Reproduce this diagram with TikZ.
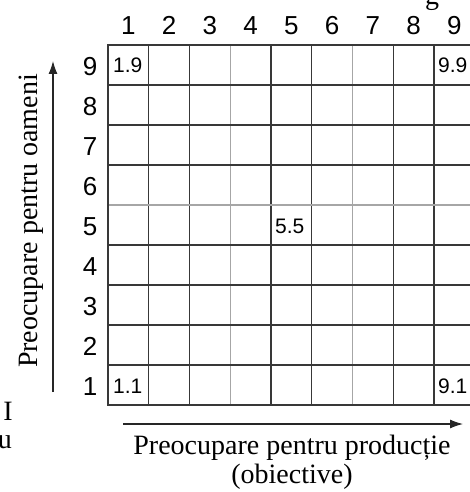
\documentclass[tikz,border=0pt]{standalone}
\usepackage{fontspec}
\setmainfont{Liberation Serif}
\newfontfamily\numfont{Liberation Sans}
\usetikzlibrary{arrows.meta}
\begin{document}
\begin{tikzpicture}[x=1pt,y=-1pt,
  gridline/.style={draw=black!78,line width=1.4pt},
  lightline/.style={draw=black!35,line width=1.4pt},
  hdr/.style={font=\numfont\fontsize{26}{26}\selectfont,inner sep=0pt,anchor=base},
  cell/.style={font=\numfont\fontsize{21}{21}\selectfont,inner sep=0pt,anchor=base west},
  axis/.style={draw=black!85,line width=1.1pt,-{Latex[length=13pt,width=9pt]}},
  lbl/.style={font=\fontsize{28}{31}\selectfont,inner sep=0pt}]
\useasboundingbox (0,0) rectangle (470,492);
% grid
\foreach \i in {1,2,4,5,7,8}
  \draw[gridline] ({108+40.75*\i},45) -- ({108+40.75*\i},405);
\foreach \i in {3,6}
  \draw[lightline] ({108+40.75*\i},45) -- ({108+40.75*\i},405);
\foreach \j in {1,2,3,5,6,7,8}
  \draw[gridline] (108,{45+40*\j}) -- (476,{45+40*\j});
\foreach \j in {4}
  \draw[lightline] (108,{45+40*\j}) -- (476,{45+40*\j});
\draw[gridline] (476,45) -- (108,45) -- (108,405) -- (476,405);
% headers
\foreach \i in {1,...,9}
  \node[hdr] (c\i) at ({108+40.75*(\i-0.5)},35) {\i};
\foreach \j in {1,...,9}
  \node[hdr] (r\j) at (90,{45+40*(9-\j)+30.5}) {\j};
% cell labels
\node[cell] (l19) at (113,73) {1.9};
\node[cell] (l99) at (438,73) {9.9};
\node[cell] (l55) at (275,233) {5.5};
\node[cell] (l11) at (113,393) {1.1};
\node[cell] (l91) at (438,393) {9.1};
% axes
\coordinate (vs) at (53,392);
\coordinate (ve) at (53,61);
\draw[axis] (vs) -- (ve);
\coordinate (hs) at (123,424);
\coordinate (he) at (463,424);
\draw[axis] (hs) -- (he);
% labels
\node[lbl,rotate=90] (yl) at (31,221) {Preocupare pentru oameni};
\node[lbl] (xl1) at (292,448) {Preocupare pentru producție};
\node[lbl] (xl2) at (292,477) {(obiective)};
% cut-off fragments at the edges
\node[lbl,anchor=east] (fa) at (13,411) {I};
\node[lbl,anchor=east] (fb) at (12,442) {u};
\node[lbl,anchor=base] (fc) at (432,5) {g};
\end{tikzpicture}
\end{document}
